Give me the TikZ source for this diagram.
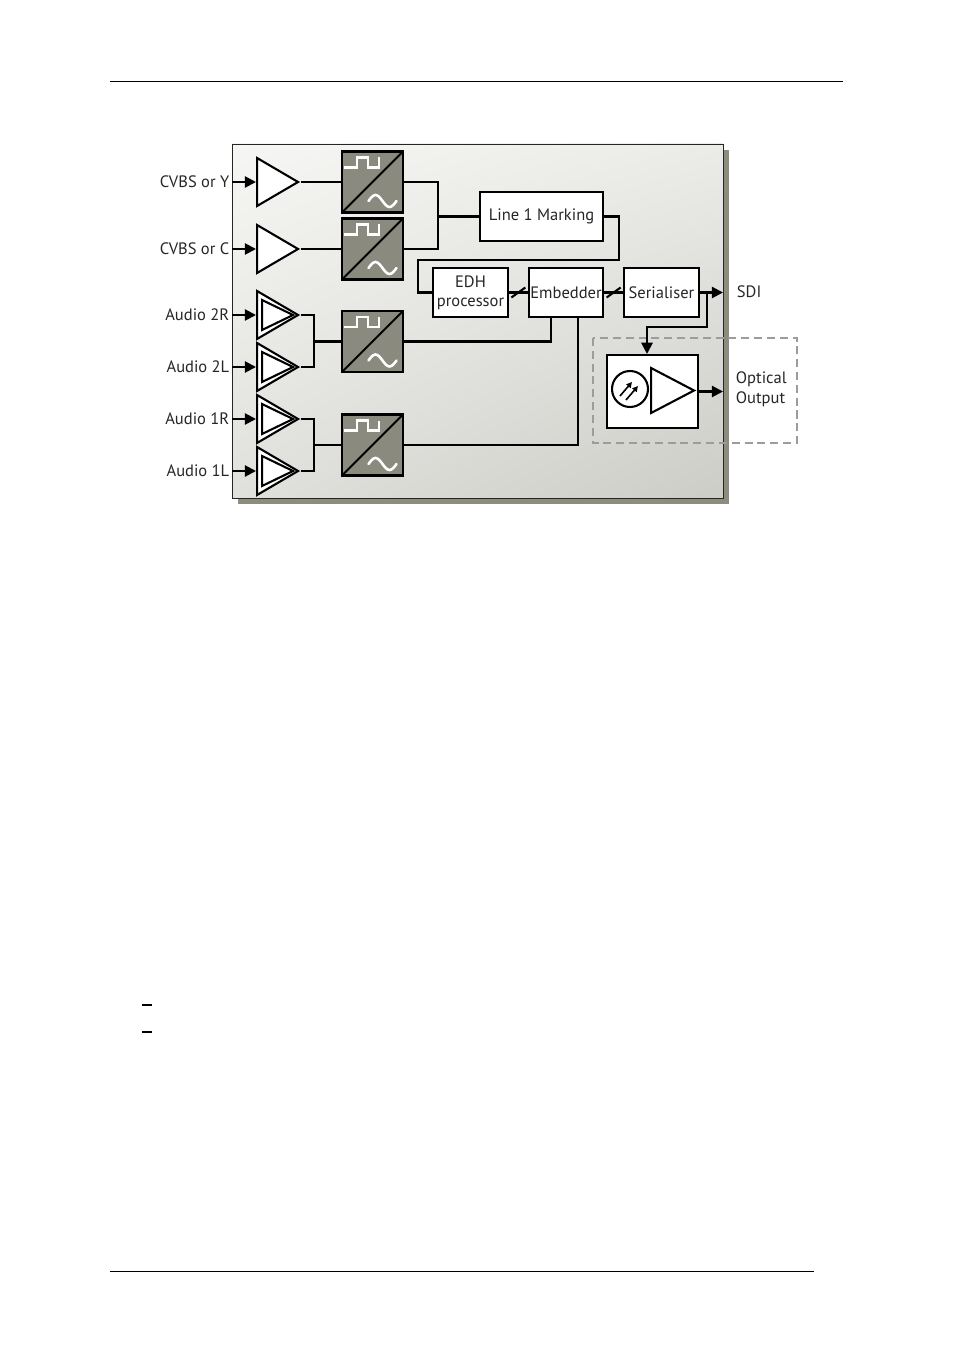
\documentclass[tikz,border=0pt]{standalone}
\usepackage{fontspec}
\setmainfont{PT Sans}
\usetikzlibrary{arrows.meta,shapes.geometric,shadings}

\newdimen\pxlen
\pxlen=0.6237pt

\definecolor{adcgray}{HTML}{8B8A7E}
\definecolor{shadowgray}{HTML}{8D8C7D}
\definecolor{framegray}{HTML}{9C9C9C}
\definecolor{panelA}{HTML}{F6F6F4}
\definecolor{panelB}{HTML}{EBEBE8}
\definecolor{panelC}{HTML}{E0E0DC}
\definecolor{panelD}{HTML}{CCCDC7}

\tikzset{
  wire/.style     = {line width=1.3pt, draw=black},
  feed/.style     = {wire, -{Triangle[length=7pt, width=7pt]}},
  inlabel/.style  = {
    anchor        = east,           % text ends at the panel edge
    inner sep     = 1.5pt,
    font          = \fontsize{10.3}{12}\selectfont,
    text          = black!85,
  },
  outlabel/.style = {
    anchor        = west,
    inner sep     = 1pt,
    align         = left,
    font          = \fontsize{10.3}{12.5}\selectfont,
    text          = black!85,
  },
  blockbox/.style = {
    rectangle,
    draw          = black,          % border
    line width    = 1.3pt,          % border width
    fill          = white,
    inner sep     = 1pt,            % sep b/w border and inner text
    align         = center,
    font          = \fontsize{10.3}{12}\selectfont,
    text          = black!85,
  },
  amp/.style      = {
    isosceles triangle,
    isosceles triangle stretches,
    shape border rotate = 0,
    anchor        = lower side,
    draw          = black,
    line width    = 1.3pt,
    fill          = white,
    inner sep     = 0pt,
    minimum width = 48*\pxlen,
    minimum height= 41*\pxlen,
  },
  ampinner/.style = {
    amp,
    minimum width = 30*\pxlen,
    minimum height= 31*\pxlen,
  },
  adc/.style      = {
    rectangle,
    draw          = black,
    line width    = 1.3pt,
    fill          = adcgray,
    inner sep     = 0pt,
    minimum size  = 61*\pxlen,
    path picture  = {
      \begin{scope}[shift={(path picture bounding box.center)}]
        \draw[line width=1.3pt] (-31,31) -- (31,-31);
        \draw[white, line width=1.4pt]
          (-28.5,-14.5) -- (-15.5,-14.5) -- (-15.5,-24.5) -- (-4.5,-24.5)
          -- (-4.5,-14.5) -- (6.5,-14.5) -- (6.5,-24.5);
        \draw[white, line width=1.6pt, line cap=round]
          (-4,19) sin (3,13) cos (10,19) sin (17,25) cos (24,19);
      \end{scope}
    },
  },
}

\begin{document}
\begin{tikzpicture}[x=\pxlen, y=-\pxlen]
\useasboundingbox (0,0) rectangle (954,1350);

% page rules
\draw[line width=0.6pt] (110,81) -- (843,81);
\draw[line width=0.6pt] (110,1271) -- (814,1271);
\draw[line width=0.8pt] (142,1005) -- (152,1005);
\draw[line width=0.8pt] (142,1032) -- (152,1032);

% panel with shadow
\fill[shadowgray] (238,150) rectangle (729,504);
\shadedraw[
  draw        = black!85,
  line width  = 0.6pt,
  upper left  = panelA,
  upper right = panelB,
  lower left  = panelC,
  lower right = panelD,
  ] (232,144) rectangle (723,498);

% optical output frame
\draw[framegray, line width=0.8pt, dash pattern=on 5pt off 3pt]
  (593,338) rectangle (797,443);

% inputs
\node[inlabel] (inY)  at (232,182) {CVBS or Y};
\node[inlabel] (inC)  at (232,249) {CVBS or C};
\node[inlabel] (in2R) at (232,315) {Audio 2R};
\node[inlabel] (in2L) at (232,367) {Audio 2L};
\node[inlabel] (in1R) at (232,419) {Audio 1R};
\node[inlabel] (in1L) at (232,471) {Audio 1L};

% amplifiers
\node[amp] (ampY)  at (256,182) {};
\node[amp] (ampC)  at (256,249) {};
\node[amp] (amp2R) at (256,315) {};
\node[ampinner] (amp2Ri) at (261,315) {};
\node[amp] (amp2L) at (256,367) {};
\node[ampinner] (amp2Li) at (261,367) {};
\node[amp] (amp1R) at (256,419) {};
\node[ampinner] (amp1Ri) at (261,419) {};
\node[amp] (amp1L) at (256,471) {};
\node[ampinner] (amp1Li) at (261,471) {};

% converters
\node[adc] (adcY) at (372.5,182)   {};
\node[adc] (adcC) at (372.5,249)   {};
\node[adc] (adc2) at (372.5,341.5) {};
\node[adc] (adc1) at (372.5,445)   {};

% processing blocks
\node at (541.5,216.5) [
  blockbox,
  minimum width  = 123*\pxlen,
  minimum height = 49*\pxlen,
  ]
  (mark)
  {Line 1 Marking};
\node at (470.5,292.5) [
  blockbox,
  minimum width  = 75*\pxlen,
  minimum height = 49*\pxlen,
  ]
  (edh)
  {EDH\\processor};
\node at (566,292.5) [
  blockbox,
  minimum width  = 74*\pxlen,
  minimum height = 49*\pxlen,
  ]
  (emb)
  {Embedder};
\node at (661.5,292.5) [
  blockbox,
  minimum width  = 75*\pxlen,
  minimum height = 49*\pxlen,
  ]
  (ser)
  {Serialiser};
\node at (652.5,391.5) [
  blockbox,
  minimum width  = 91*\pxlen,
  minimum height = 73*\pxlen,
  ]
  (opt)
  {};

% laser driver inside the optical block
\node[circle, draw=black, line width=1.3pt, fill=white, inner sep=0pt,
      minimum size=36*\pxlen] (diode) at (630,389) {};
\node[amp, minimum width=45*\pxlen, minimum height=43*\pxlen] (drv) at (650,390.5) {};
\draw[line width=1pt, -{Triangle[length=3.5pt, width=3.5pt]}]
  ([shift={(-10,7)}]diode.center) -- ([shift={(2,-7)}]diode.center);
\draw[line width=1pt, -{Triangle[length=3.5pt, width=3.5pt]}]
  ([shift={(-4,11)}]diode.center) -- ([shift={(8,-3)}]diode.center);

% video path
\draw[feed] (inY.east) -- (ampY.lower side);
\draw[feed] (inC.east) -- (ampC.lower side);
\draw[wire] (ampY.apex) -- (adcY.west);
\draw[wire] (ampC.apex) -- (adcC.west);
\coordinate (vidJoin) at (438,216.5);
\draw[wire] (adcY.east) -| (vidJoin) |- (adcC.east);
\draw[wire] (vidJoin) -- (mark.west);
\draw[wire] (mark.east) -- ++(15,0) |- (418,260) |- (edh.west);

% digital bus
\draw[wire] (edh.east) -- coordinate[midway] (busA) (emb.west);
\draw[wire] ([shift={(-7,5)}]busA) -- ([shift={(7,-5)}]busA);
\draw[wire] (emb.east) -- coordinate[midway] (busB) (ser.west);
\draw[wire] ([shift={(-7,5)}]busB) -- ([shift={(7,-5)}]busB);

% outputs
\coordinate (sdiOut) at (723,292.5);
\draw[feed] (ser.east) -- (sdiOut);
\node[outlabel] (sdi) at (735,292) {SDI};
\draw[feed] ([shift={(7,0)}]ser.east) |- ([shift={(-5.5,-27)}]opt.north)
  -- ([shift={(-5.5,0)}]opt.north);
\coordinate (optOut) at (723,391.5);
\draw[feed] (opt.east) -- (optOut);
\node[outlabel] (optLbl) at (734,389.5) {Optical\\Output};

% audio path
\draw[feed] (in2R.east) -- (amp2R.lower side);
\draw[feed] (in2L.east) -- (amp2L.lower side);
\draw[feed] (in1R.east) -- (amp1R.lower side);
\draw[feed] (in1L.east) -- (amp1L.lower side);
\coordinate (join2) at (314,341.5);
\draw[wire] (amp2R.apex) -| (join2) |- (amp2L.apex);
\draw[wire] (join2) -- (adc2.west);
\coordinate (join1) at (314,445);
\draw[wire] (amp1R.apex) -| (join1) |- (amp1L.apex);
\draw[wire] (join1) -- (adc1.west);
\draw[wire] ([shift={(-15,0)}]emb.south) |- (adc2.east);
\draw[wire] ([shift={(12,0)}]emb.south) |- (adc1.east);
\end{tikzpicture}
\end{document}
